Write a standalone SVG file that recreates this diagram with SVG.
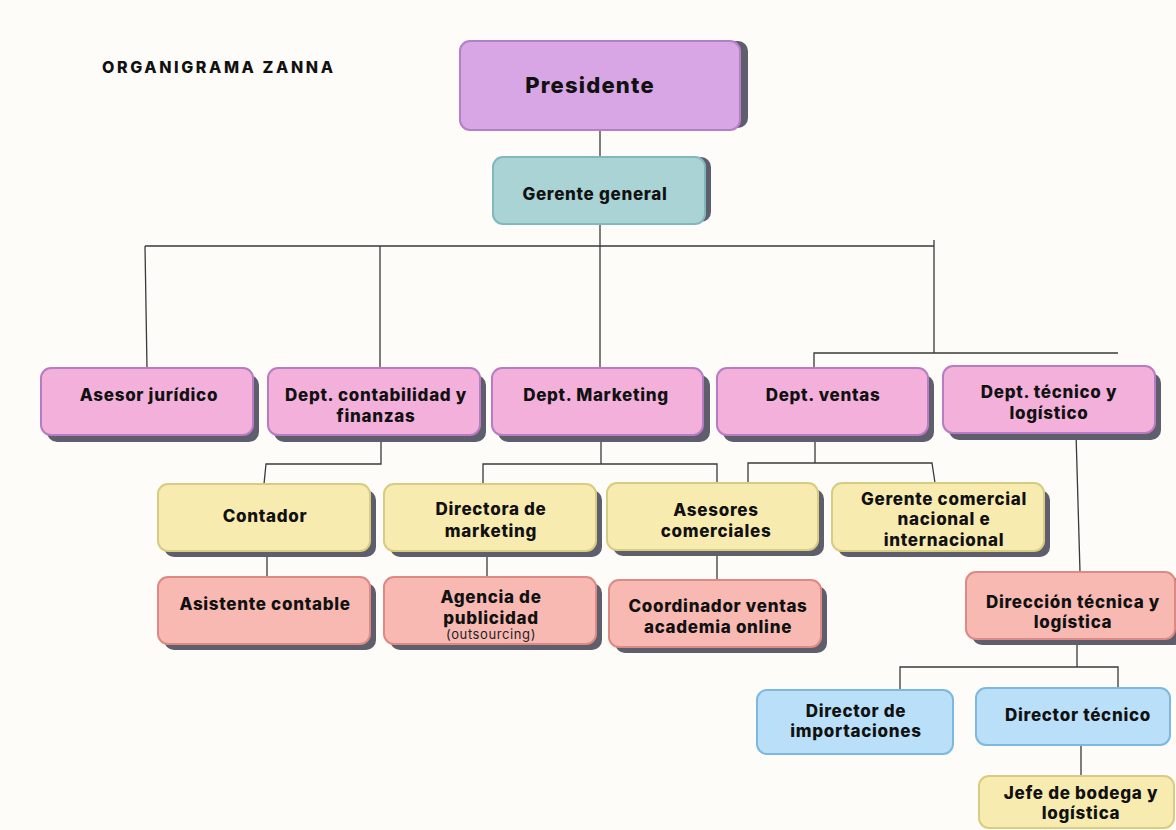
<svg xmlns="http://www.w3.org/2000/svg" width="1176" height="830" viewBox="0 0 1176 830">
<style>
.t{font-family:Inter,"Liberation Sans",sans-serif;font-weight:800;font-size:17px;letter-spacing:0.7px;fill:#111;text-anchor:middle}
.s{fill:#5e5e6c}
.pu{fill:#d8a6e4;stroke:#b57fc6;stroke-width:2}
.te{fill:#a9d3d4;stroke:#80b9ba;stroke-width:2}
.pk{fill:#f2b0da;stroke:#b77cc4;stroke-width:2}
.ye{fill:#f8ebb0;stroke:#d6cc82;stroke-width:2}
.sa{fill:#f8b9b3;stroke:#dd8a84;stroke-width:2}
.bl{fill:#b9e0f8;stroke:#7cb8e0;stroke-width:2}
.c{fill:none;stroke:#3a3a3a;stroke-width:1.3}
</style>
<rect width="1176" height="830" fill="#fdfcf9"/>
<text x="102" y="73" class="t" style="text-anchor:start;font-size:16px;letter-spacing:2.6px">ORGANIGRAMA ZANNA</text>
<g id="connectors">
<path class="c" d="M600 130V157"/>
<path class="c" d="M600 224V368"/>
<path class="c" d="M145 246H934M934 240V353M145 246L147 368M380 246V368"/>
<path class="c" d="M814 368V353H1118"/>
<path class="c" d="M381 435V464H266L264 484"/>
<path class="c" d="M267 551V577"/>
<path class="c" d="M601 435V464H483V484M601 464H717V483"/>
<path class="c" d="M487 551V577"/>
<path class="c" d="M815 435V463H748V483M815 463H932L935 483"/>
<path class="c" d="M717 550V580"/>
<path class="c" d="M1076 433L1080 572"/>
<path class="c" d="M1077 639V667H900V689M1077 667H1118V688"/>
<path class="c" d="M1081 745V777"/>
</g>
<g id="presidente">
<rect x="468" y="41" width="280" height="87" rx="10" class="s"/>
<rect x="460" y="41" width="280" height="89" rx="10" class="pu"/>
<text x="590" y="93" class="t" style="font-size:22px;letter-spacing:1.2px">Presidente</text>
</g>
<g id="gerente-general">
<rect x="499" y="157" width="212" height="65" rx="10" class="s"/>
<rect x="493" y="157" width="212" height="67" rx="10" class="te"/>
<text x="595" y="200" class="t">Gerente general</text>
</g>
<g id="asesor-juridico">
<rect x="47" y="375" width="212" height="67" rx="10" class="s"/>
<rect x="41" y="368" width="212" height="67" rx="10" class="pk"/>
<text x="149" y="401" class="t">Asesor jurídico</text>
</g>
<g id="dept-contabilidad">
<rect x="274" y="375" width="212" height="67" rx="10" class="s"/>
<rect x="268" y="368" width="212" height="67" rx="10" class="pk"/>
<text x="376" y="401" class="t">Dept. contabilidad y</text>
<text x="376" y="422" class="t">finanzas</text>
</g>
<g id="dept-marketing">
<rect x="498" y="375" width="212" height="67" rx="10" class="s"/>
<rect x="492" y="368" width="211" height="67" rx="10" class="pk"/>
<text x="596" y="401" class="t">Dept. Marketing</text>
</g>
<g id="dept-ventas">
<rect x="723" y="375" width="211" height="67" rx="10" class="s"/>
<rect x="717" y="368" width="211" height="67" rx="10" class="pk"/>
<text x="823" y="401" class="t">Dept. ventas</text>
</g>
<g id="dept-tecnico">
<rect x="949" y="373" width="212" height="67" rx="10" class="s"/>
<rect x="943" y="366" width="212" height="67" rx="10" class="pk"/>
<text x="1049" y="398" class="t">Dept. técnico y</text>
<text x="1049" y="419" class="t">logístico</text>
</g>
<g id="contador">
<rect x="164" y="490" width="212" height="67" rx="10" class="s"/>
<rect x="158" y="484" width="212" height="67" rx="10" class="ye"/>
<text x="265" y="522" class="t">Contador</text>
</g>
<g id="directora-marketing">
<rect x="390" y="490" width="212" height="67" rx="10" class="s"/>
<rect x="384" y="484" width="212" height="67" rx="10" class="ye"/>
<text x="491" y="515" class="t">Directora de</text>
<text x="491" y="537" class="t">marketing</text>
</g>
<g id="asesores-comerciales">
<rect x="613" y="489" width="211" height="67" rx="10" class="s"/>
<rect x="607" y="483" width="211" height="67" rx="10" class="ye"/>
<text x="716" y="516" class="t">Asesores</text>
<text x="716" y="537" class="t">comerciales</text>
</g>
<g id="gerente-comercial">
<rect x="838" y="490" width="212" height="67" rx="10" class="s"/>
<rect x="832" y="483" width="212" height="68" rx="10" class="ye"/>
<text x="944" y="505" class="t">Gerente comercial</text>
<text x="944" y="525" class="t">nacional e</text>
<text x="944" y="546" class="t">internacional</text>
</g>
<g id="asistente-contable">
<rect x="164" y="583" width="212" height="67" rx="10" class="s"/>
<rect x="158" y="577" width="212" height="67" rx="10" class="sa"/>
<text x="265" y="610" class="t">Asistente contable</text>
</g>
<g id="agencia-publicidad">
<rect x="390" y="583" width="212" height="67" rx="10" class="s"/>
<rect x="384" y="577" width="212" height="67" rx="10" class="sa"/>
<text x="491" y="603" class="t">Agencia de</text>
<text x="491" y="624" class="t">publicidad</text>
<text x="491" y="639" class="t" style="font-weight:400;font-size:13px;letter-spacing:0.6px;fill:#222">(outsourcing)</text>
</g>
<g id="coordinador-ventas">
<rect x="615" y="586" width="212" height="67" rx="10" class="s"/>
<rect x="609" y="580" width="212" height="67" rx="10" class="sa"/>
<text x="718" y="612" class="t">Coordinador ventas</text>
<text x="718" y="633" class="t">academia online</text>
</g>
<g id="direccion-tecnica">
<rect x="972" y="578" width="212" height="67" rx="10" class="s"/>
<rect x="966" y="572" width="209" height="67" rx="10" class="sa"/>
<text x="1073" y="608" class="t">Dirección técnica y</text>
<text x="1073" y="628" class="t">logística</text>
</g>
<g id="director-importaciones">
<rect x="757" y="690" width="196" height="64" rx="10" class="bl"/>
<text x="856" y="717" class="t">Director de</text>
<text x="856" y="737" class="t">importaciones</text>
</g>
<g id="director-tecnico">
<rect x="976" y="688" width="194" height="57" rx="10" class="bl"/>
<text x="1078" y="721" class="t">Director técnico</text>
</g>
<g id="jefe-bodega">
<rect x="979" y="776" width="195" height="52" rx="10" class="ye"/>
<text x="1081" y="799" class="t">Jefe de bodega y</text>
<text x="1081" y="819" class="t">logística</text>
</g>
</svg>
